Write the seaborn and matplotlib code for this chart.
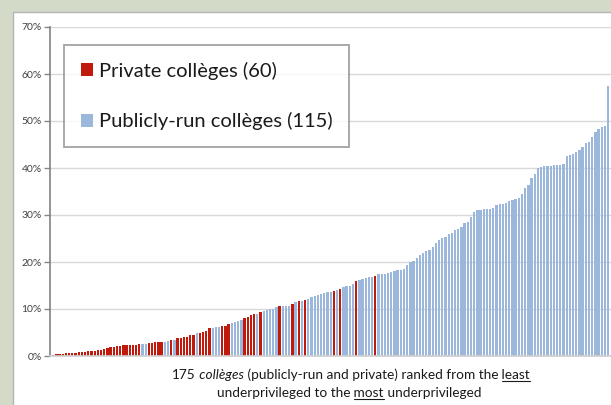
import matplotlib
matplotlib.use("Agg")
import matplotlib.pyplot as plt
import numpy as np
import pandas as pd
import seaborn as sns
from matplotlib.patches import Rectangle
from matplotlib.lines import Line2D

# ---- data -------------------------------------------------------------
share_pct = [
    0.3, 0.4, 0.45, 0.5, 0.55, 0.6, 0.65, 0.7, 0.8, 0.85,
    0.9, 1.0, 1.05, 1.1, 1.2, 1.3, 1.4, 1.7, 1.85, 2.0,
    2.1, 2.2, 2.25, 2.3, 2.3, 2.35, 2.4, 2.5, 2.6, 2.65,
    2.7, 2.75, 2.9, 3.0, 3.0, 3.05, 3.2, 3.3, 3.35, 3.8,
    3.9, 3.95, 4.1, 4.4, 4.5, 4.9, 5.0, 5.1, 5.4, 5.9,
    6.0, 6.1, 6.1, 6.3, 6.4, 6.9, 7.0, 7.2, 7.4, 7.6,
    8.0, 8.4, 8.8, 8.9, 8.9, 9.4, 9.5, 9.8, 9.9, 10.0,
    10.4, 10.6, 10.6, 10.6, 10.7, 11.1, 11.4, 11.6, 11.8, 12.0,
    12.1, 12.5, 12.8, 12.9, 13.1, 13.4, 13.6, 13.7, 13.9, 14.0,
    14.3, 14.7, 14.8, 14.9, 15.3, 16.0, 16.2, 16.4, 16.5, 16.8,
    16.9, 17.0, 17.4, 17.5, 17.5, 17.6, 17.8, 18.1, 18.2, 18.4,
    18.5, 19.4, 19.9, 20.2, 20.8, 21.5, 22.0, 22.3, 22.6, 23.2,
    24.0, 24.6, 25.1, 25.3, 26.0, 26.2, 26.9, 27.1, 27.5, 28.3,
    28.6, 29.5, 30.7, 31.0, 31.1, 31.2, 31.2, 31.3, 31.5, 32.1,
    32.3, 32.4, 32.6, 33.0, 33.2, 33.3, 33.6, 34.5, 35.8, 36.4,
    37.9, 38.8, 40.0, 40.3, 40.4, 40.5, 40.5, 40.6, 40.6, 40.7,
    40.8, 42.6, 42.7, 43.0, 43.4, 43.8, 44.5, 45.3, 45.6, 46.7,
    47.6, 48.3, 48.7, 49.0, 57.4,
]
# ranks (0-based) of the private colleges; all others are publicly-run
private_ranks = (
    list(range(0, 28)) + list(range(30, 35)) + [37] + list(range(39, 45))
    + list(range(46, 50)) + [53, 54, 55] + [60, 61, 62, 63, 65]
    + [71, 75, 77, 79, 88, 90, 95, 101]
)
label_private = "Private collèges (60)"
label_public = "Publicly-run collèges (115)"
yticks_pct = [0, 10, 20, 30, 40, 50, 60, 70]

# ---- style ------------------------------------------------------------
sns.set_theme(style="white")
plt.rcParams['font.family'] = ['Lato', 'DejaVu Sans']

W, H = 611, 405
fig = plt.figure(figsize=(W / 100, H / 100), dpi=100, facecolor='#D4DAC8')
fig.patches.append(Rectangle((13 / W, -0.01), 1.0, (H - 12) / H + 0.01,
                             transform=fig.transFigure, facecolor='white',
                             edgecolor='#B4B4B4', lw=1, zorder=-5))

ax = fig.add_axes([50 / W, (H - 356) / H, (W - 50) / W, (356 - 27) / H])
ax.set_facecolor('none')
ax.set_zorder(2)

ranks = list(range(len(share_pct)))
kind = [label_private if r in private_ranks else label_public for r in ranks]
df = pd.DataFrame({'rank': ranks, 'share': share_pct, 'type': kind})

sns.barplot(data=df, x='rank', y='share', hue='type',
            hue_order=[label_private, label_public],
            palette={label_private: '#C01A0C', label_public: '#9BB8DC'},
            dodge=False, native_scale=True, width=0.72, saturation=1,
            linewidth=0, ax=ax, legend=True)

ax.set_xlim(-1.0, 174.9)
ax.set_ylim(0, 70)
ax.set_yticks(yticks_pct)
ax.set_yticklabels([f"{v}%" for v in yticks_pct])
ax.set_xticks([])
ax.set_xlabel("")
ax.set_ylabel("")
ax.yaxis.grid(True, color='#D9D9D9', lw=1)
ax.set_axisbelow(True)
for s in ['top', 'right']:
    ax.spines[s].set_visible(False)
ax.spines['left'].set_color('#868686')
ax.spines['bottom'].set_color('#D0D0D0')
ax.tick_params(axis='y', left=True, length=4, width=1, color='#868686',
               labelsize=7.5, labelcolor='#404040', pad=2)

leg = ax.legend(loc='upper left', bbox_to_anchor=(0.025, 0.945),
                borderaxespad=0, fontsize=14.5, frameon=True, fancybox=False,
                labelspacing=1.62, borderpad=0.82, handlelength=0.6,
                handleheight=0.6, handletextpad=0.3)
leg.get_frame().set_edgecolor('#8C8C8C')
leg.get_frame().set_linewidth(1.3)
for t in leg.get_texts():
    t.set_color('#1A1A1A')

# ---- two-line x caption with italic and underlined words ----------------
def rich_line(segs, cx, baseline, size):
    texts = []
    for s, style, ul in segs:
        t = fig.text(0, 1 - baseline / H, s, fontsize=size, style=style,
                     va='baseline', ha='left', color='#1A1A1A')
        texts.append((t, s, style, ul))
    fig.canvas.draw()
    r = fig.canvas.get_renderer()
    widths = [t.get_window_extent(r).width for t, *_ in texts]
    total = sum(widths)
    x = cx - total / 2
    for (t, s, style, ul), w in zip(texts, widths):
        t.set_x(x / W)
        if ul:
            tmp = fig.text(0, 0, s.lstrip(), fontsize=size, style=style)
            w2 = tmp.get_window_extent(r).width
            tmp.remove()
            x0, x1 = x + w - w2, x + w
            yy = 1 - (baseline + 1.6) / H
            fig.lines.append(Line2D([x0 / W, x1 / W], [yy, yy],
                                    transform=fig.transFigure,
                                    color='#1A1A1A', lw=0.8))
        x += w

cap = 9.8
rich_line([("175", 'normal', False), (" collèges", 'italic', False),
           (" (publicly-run and private) ranked from the", 'normal', False),
           (" least", 'normal', True)], 351, 379, cap)
rich_line([("underprivileged to the", 'normal', False),
           (" most", 'normal', True),
           (" underprivileged", 'normal', False)], 349, 397, cap)

fig.savefig("out.png", dpi=100, facecolor=fig.get_facecolor())
